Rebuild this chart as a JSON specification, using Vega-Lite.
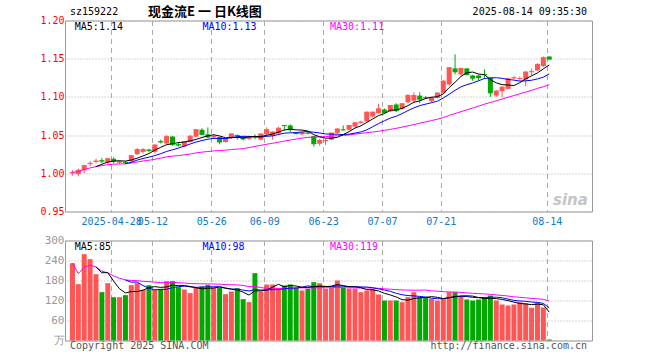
{
"$schema":"https://vega.github.io/schema/vega-lite/v6.json",
"padding":{"left":39,"top":5.5,"right":0,"bottom":0},
"background":"white",
"spacing":29,
"bounds":"flush",
"config":{
 "view":{"stroke":"#999","strokeWidth":1},
 "font":"DejaVu Sans Mono",
 "axis":{"labelFont":"DejaVu Sans Mono","labelFontSize":10,"domain":false,"ticks":false,"tickSize":0,"gridColor":"#aaa","gridWidth":1,"title":null,"labelOverlap":false}
},
"datasets":{"k":[
{"i":0,"o":1.000,"c":1.001,"h":1.004,"l":0.997,"v":232,"m5":null,"m10":null,"m30":1.001,"vm5":null,"vm10":null,"vm30":232},
{"i":1,"o":0.999,"c":1.004,"h":1.006,"l":0.996,"v":169,"m5":null,"m10":null,"m30":1.0025,"vm5":null,"vm10":null,"vm30":200.5},
{"i":2,"o":1.004,"c":1.010,"h":1.011,"l":1.000,"v":259,"m5":null,"m10":null,"m30":1.005,"vm5":null,"vm10":null,"vm30":220},
{"i":3,"o":1.012,"c":1.013,"h":1.016,"l":1.009,"v":244,"m5":null,"m10":null,"m30":1.007,"vm5":null,"vm10":null,"vm30":226},
{"i":4,"o":1.015,"c":1.016,"h":1.019,"l":1.013,"v":199,"m5":1.0088,"m10":null,"m30":1.0088,"vm5":220.6,"vm10":null,"vm30":220.6},
{"i":5,"o":1.017,"c":1.016,"h":1.020,"l":1.013,"v":145,"m5":1.0118,"m10":null,"m30":1.010,"vm5":203.2,"vm10":null,"vm30":208},
{"i":6,"o":1.014,"c":1.019,"h":1.020,"l":1.012,"v":172,"m5":1.0148,"m10":null,"m30":1.0113,"vm5":203.8,"vm10":null,"vm30":202.9},
{"i":7,"o":1.019,"c":1.016,"h":1.021,"l":1.013,"v":130,"m5":1.016,"m10":null,"m30":1.0119,"vm5":178,"vm10":null,"vm30":193.8},
{"i":8,"o":1.014,"c":1.015,"h":1.017,"l":1.012,"v":130,"m5":1.0164,"m10":null,"m30":1.0122,"vm5":155.2,"vm10":null,"vm30":186.7},
{"i":9,"o":1.015,"c":1.014,"h":1.016,"l":1.012,"v":136,"m5":1.016,"m10":1.0124,"m30":1.0124,"vm5":142.6,"vm10":181.6,"vm30":181.6},
{"i":10,"o":1.016,"c":1.023,"h":1.024,"l":1.013,"v":166,"m5":1.0174,"m10":1.0146,"m30":1.0134,"vm5":146.8,"vm10":175,"vm30":180.2},
{"i":11,"o":1.025,"c":1.031,"h":1.033,"l":1.024,"v":172,"m5":1.0198,"m10":1.0173,"m30":1.0148,"vm5":146.8,"vm10":175.3,"vm30":179.5},
{"i":12,"o":1.028,"c":1.031,"h":1.033,"l":1.026,"v":152,"m5":1.0228,"m10":1.0194,"m30":1.0161,"vm5":151.2,"vm10":164.6,"vm30":177.4},
{"i":13,"o":1.031,"c":1.030,"h":1.032,"l":1.028,"v":166,"m5":1.0258,"m10":1.0211,"m30":1.0171,"vm5":158.4,"vm10":156.8,"vm30":176.6},
{"i":14,"o":1.028,"c":1.037,"h":1.038,"l":1.026,"v":152,"m5":1.0304,"m10":1.0232,"m30":1.0184,"vm5":161.6,"vm10":152.1,"vm30":174.9},
{"i":15,"o":1.042,"c":1.041,"h":1.044,"l":1.039,"v":155,"m5":1.034,"m10":1.0257,"m30":1.0198,"vm5":159.4,"vm10":153.1,"vm30":173.7},
{"i":16,"o":1.039,"c":1.048,"h":1.050,"l":1.037,"v":178,"m5":1.0374,"m10":1.0286,"m30":1.0215,"vm5":160.6,"vm10":153.7,"vm30":173.9},
{"i":17,"o":1.048,"c":1.038,"h":1.049,"l":1.036,"v":178,"m5":1.0388,"m10":1.0308,"m30":1.0224,"vm5":165.8,"vm10":158.5,"vm30":174.2},
{"i":18,"o":1.038,"c":1.037,"h":1.040,"l":1.035,"v":160,"m5":1.0402,"m10":1.033,"m30":1.0232,"vm5":164.6,"vm10":161.5,"vm30":173.4},
{"i":19,"o":1.035,"c":1.041,"h":1.042,"l":1.034,"v":153,"m5":1.041,"m10":1.0357,"m30":1.0241,"vm5":164.8,"vm10":163.2,"vm30":172.4},
{"i":20,"o":1.041,"c":1.0485,"h":1.050,"l":1.040,"v":142,"m5":1.0425,"m10":1.0383,"m30":1.0252,"vm5":162.2,"vm10":160.8,"vm30":171},
{"i":21,"o":1.048,"c":1.057,"h":1.058,"l":1.047,"v":158,"m5":1.0443,"m10":1.0409,"m30":1.0267,"vm5":158.2,"vm10":159.4,"vm30":170.4},
{"i":22,"o":1.057,"c":1.051,"h":1.059,"l":1.050,"v":162,"m5":1.0469,"m10":1.0429,"m30":1.0277,"vm5":155,"vm10":160.4,"vm30":170},
{"i":23,"o":1.051,"c":1.0475,"h":1.060,"l":1.046,"v":167,"m5":1.049,"m10":1.0446,"m30":1.0285,"vm5":156.4,"vm10":160.5,"vm30":169.9},
{"i":24,"o":1.047,"c":1.048,"h":1.051,"l":1.045,"v":158,"m5":1.0504,"m10":1.0457,"m30":1.0293,"vm5":157.4,"vm10":161.1,"vm30":169.4},
{"i":25,"o":1.0475,"c":1.041,"h":1.048,"l":1.038,"v":158,"m5":1.0489,"m10":1.0457,"m30":1.0298,"vm5":160.6,"vm10":161.4,"vm30":169},
{"i":26,"o":1.041,"c":1.045,"h":1.046,"l":1.040,"v":139,"m5":1.0465,"m10":1.0454,"m30":1.0303,"vm5":156.8,"vm10":157.5,"vm30":167.9},
{"i":27,"o":1.0465,"c":1.0515,"h":1.052,"l":1.045,"v":147,"m5":1.0466,"m10":1.0468,"m30":1.0311,"vm5":153.8,"vm10":154.4,"vm30":167.1},
{"i":28,"o":1.050,"c":1.0495,"h":1.051,"l":1.044,"v":157,"m5":1.047,"m10":1.048,"m30":1.0317,"vm5":151.8,"vm10":154.1,"vm30":166.8},
{"i":29,"o":1.047,"c":1.045,"h":1.049,"l":1.043,"v":124,"m5":1.0464,"m10":1.0484,"m30":1.0322,"vm5":145,"vm10":151.2,"vm30":165.3},
{"i":30,"o":1.045,"c":1.047,"h":1.048,"l":1.044,"v":115,"m5":1.0476,"m10":1.0483,"m30":1.0337,"vm5":136.4,"vm10":148.5,"vm30":161.4},
{"i":31,"o":1.0485,"c":1.048,"h":1.051,"l":1.045,"v":202,"m5":1.0482,"m10":1.0474,"m30":1.0352,"vm5":149,"vm10":152.9,"vm30":162.5},
{"i":32,"o":1.044,"c":1.0515,"h":1.052,"l":1.043,"v":147,"m5":1.0482,"m10":1.0474,"m30":1.0366,"vm5":149,"vm10":151.4,"vm30":158.8},
{"i":33,"o":1.051,"c":1.057,"h":1.060,"l":1.050,"v":168,"m5":1.0497,"m10":1.0484,"m30":1.038,"vm5":151.2,"vm10":151.5,"vm30":156.3},
{"i":34,"o":1.049,"c":1.054,"h":1.055,"l":1.044,"v":168,"m5":1.0515,"m10":1.049,"m30":1.0393,"vm5":160,"vm10":152.5,"vm30":155.2},
{"i":35,"o":1.052,"c":1.059,"h":1.061,"l":1.050,"v":158,"m5":1.0539,"m10":1.0508,"m30":1.0407,"vm5":168.6,"vm10":152.5,"vm30":155.7},
{"i":36,"o":1.0628,"c":1.0624,"h":1.0628,"l":1.056,"v":165,"m5":1.0567,"m10":1.0525,"m30":1.0422,"vm5":161.2,"vm10":155.1,"vm30":155.4},
{"i":37,"o":1.0626,"c":1.057,"h":1.064,"l":1.054,"v":168,"m5":1.0578,"m10":1.053,"m30":1.0435,"vm5":165.4,"vm10":157.2,"vm30":156.7},
{"i":38,"o":1.053,"c":1.052,"h":1.054,"l":1.051,"v":158,"m5":1.0568,"m10":1.0533,"m30":1.0448,"vm5":163.4,"vm10":157.3,"vm30":157.6},
{"i":39,"o":1.051,"c":1.053,"h":1.054,"l":1.050,"v":150,"m5":1.0566,"m10":1.0541,"m30":1.0461,"vm5":159.8,"vm10":159.9,"vm30":158.1},
{"i":40,"o":1.053,"c":1.0525,"h":1.054,"l":1.051,"v":155,"m5":1.0553,"m10":1.0546,"m30":1.047,"vm5":159.2,"vm10":163.9,"vm30":157.7},
{"i":41,"o":1.0487,"c":1.0387,"h":1.049,"l":1.035,"v":175,"m5":1.0506,"m10":1.0537,"m30":1.0473,"vm5":161.2,"vm10":161.2,"vm30":157.8},
{"i":42,"o":1.0387,"c":1.043,"h":1.045,"l":1.036,"v":172,"m5":1.0478,"m10":1.0528,"m30":1.0477,"vm5":162,"vm10":163.7,"vm30":158.5},
{"i":43,"o":1.042,"c":1.043,"h":1.045,"l":1.037,"v":155,"m5":1.046,"m10":1.0514,"m30":1.0481,"vm5":161.4,"vm10":162.4,"vm30":158.1},
{"i":44,"o":1.044,"c":1.0526,"h":1.053,"l":1.043,"v":158,"m5":1.046,"m10":1.0513,"m30":1.0486,"vm5":163,"vm10":161.4,"vm30":158.3},
{"i":45,"o":1.053,"c":1.058,"h":1.059,"l":1.052,"v":180,"m5":1.0471,"m10":1.0512,"m30":1.0492,"vm5":168,"vm10":163.6,"vm30":159.2},
{"i":46,"o":1.0572,"c":1.0568,"h":1.0626,"l":1.056,"v":158,"m5":1.0507,"m10":1.0507,"m30":1.0495,"vm5":164.6,"vm10":162.9,"vm30":158.5},
{"i":47,"o":1.057,"c":1.0626,"h":1.063,"l":1.056,"v":155,"m5":1.0546,"m10":1.0512,"m30":1.0503,"vm5":161.2,"vm10":161.6,"vm30":157.7},
{"i":48,"o":1.061,"c":1.066,"h":1.067,"l":1.060,"v":155,"m5":1.0592,"m10":1.0526,"m30":1.0513,"vm5":161.2,"vm10":161.3,"vm30":157.6},
{"i":49,"o":1.066,"c":1.067,"h":1.069,"l":1.065,"v":145,"m5":1.0621,"m10":1.0541,"m30":1.0522,"vm5":158.6,"vm10":160.8,"vm30":157.3},
{"i":50,"o":1.068,"c":1.080,"h":1.081,"l":1.067,"v":150,"m5":1.0665,"m10":1.0568,"m30":1.0532,"vm5":152.6,"vm10":160.3,"vm30":157.6},
{"i":51,"o":1.0743,"c":1.080,"h":1.081,"l":1.073,"v":155,"m5":1.0711,"m10":1.0609,"m30":1.054,"vm5":152,"vm10":158.3,"vm30":157.5},
{"i":52,"o":1.0787,"c":1.0843,"h":1.091,"l":1.078,"v":138,"m5":1.0755,"m10":1.0651,"m30":1.0551,"vm5":148.6,"vm10":154.9,"vm30":156.7},
{"i":53,"o":1.0835,"c":1.0796,"h":1.085,"l":1.079,"v":120,"m5":1.0782,"m10":1.0687,"m30":1.0562,"vm5":141.6,"vm10":151.4,"vm30":155.1},
{"i":54,"o":1.081,"c":1.0887,"h":1.089,"l":1.080,"v":120,"m5":1.0825,"m10":1.0723,"m30":1.0575,"vm5":136.6,"vm10":147.6,"vm30":153.8},
{"i":55,"o":1.090,"c":1.082,"h":1.0917,"l":1.080,"v":120,"m5":1.0829,"m10":1.0747,"m30":1.0589,"vm5":130.6,"vm10":141.6,"vm30":152.6},
{"i":56,"o":1.0843,"c":1.091,"h":1.092,"l":1.083,"v":115,"m5":1.0851,"m10":1.0781,"m30":1.0604,"vm5":122.6,"vm10":137.3,"vm30":151.8},
{"i":57,"o":1.093,"c":1.1017,"h":1.104,"l":1.0917,"v":130,"m5":1.0886,"m10":1.0821,"m30":1.0621,"vm5":121,"vm10":134.8,"vm30":151.2},
{"i":58,"o":1.095,"c":1.1017,"h":1.106,"l":1.0917,"v":145,"m5":1.093,"m10":1.0856,"m30":1.0638,"vm5":126,"vm10":133.8,"vm30":150.8},
{"i":59,"o":1.1017,"c":1.097,"h":1.106,"l":1.0917,"v":130,"m5":1.0947,"m10":1.0886,"m30":1.0656,"vm5":128,"vm10":132.3,"vm30":151},
{"i":60,"o":1.099,"c":1.0987,"h":1.101,"l":1.097,"v":128,"m5":1.098,"m10":1.0905,"m30":1.0673,"vm5":129.6,"vm10":130.1,"vm30":151.4},
{"i":61,"o":1.0943,"c":1.0987,"h":1.100,"l":1.093,"v":125,"m5":1.0996,"m10":1.0924,"m30":1.069,"vm5":131.6,"vm10":127.1,"vm30":148.9},
{"i":62,"o":1.0987,"c":1.105,"h":1.106,"l":1.098,"v":120,"m5":1.1002,"m10":1.0944,"m30":1.0708,"vm5":129.6,"vm10":125.3,"vm30":148},
{"i":63,"o":1.1053,"c":1.1206,"h":1.122,"l":1.104,"v":125,"m5":1.104,"m10":1.0985,"m30":1.0729,"vm5":125.6,"vm10":125.8,"vm30":146.5},
{"i":64,"o":1.1162,"c":1.1382,"h":1.139,"l":1.115,"v":145,"m5":1.1122,"m10":1.1035,"m30":1.0757,"vm5":128.6,"vm10":128.3,"vm30":145.8},
{"i":65,"o":1.1373,"c":1.1329,"h":1.1557,"l":1.1294,"v":145,"m5":1.1191,"m10":1.1086,"m30":1.0782,"vm5":132,"vm10":130.8,"vm30":145.3},
{"i":66,"o":1.1294,"c":1.1373,"h":1.138,"l":1.1285,"v":133,"m5":1.1268,"m10":1.1132,"m30":1.0807,"vm5":133.6,"vm10":132.6,"vm30":144.3},
{"i":67,"o":1.1373,"c":1.1294,"h":1.138,"l":1.128,"v":123,"m5":1.1317,"m10":1.116,"m30":1.0831,"vm5":134.2,"vm10":131.9,"vm30":142.8},
{"i":68,"o":1.128,"c":1.1246,"h":1.129,"l":1.121,"v":120,"m5":1.1325,"m10":1.1183,"m30":1.0855,"vm5":133.2,"vm10":129.4,"vm30":141.5},
{"i":69,"o":1.128,"c":1.1254,"h":1.129,"l":1.121,"v":123,"m5":1.1299,"m10":1.1211,"m30":1.0879,"vm5":128.8,"vm10":128.7,"vm30":140.6},
{"i":70,"o":1.1294,"c":1.129,"h":1.136,"l":1.124,"v":130,"m5":1.1291,"m10":1.1241,"m30":1.0905,"vm5":125.8,"vm10":128.9,"vm30":139.8},
{"i":71,"o":1.125,"c":1.1053,"h":1.126,"l":1.100,"v":135,"m5":1.1227,"m10":1.1248,"m30":1.0927,"vm5":126.2,"vm10":129.9,"vm30":138.4},
{"i":72,"o":1.1018,"c":1.1075,"h":1.109,"l":1.100,"v":120,"m5":1.1184,"m10":1.1251,"m30":1.0948,"vm5":125.6,"vm10":129.9,"vm30":136.7},
{"i":73,"o":1.1075,"c":1.1127,"h":1.114,"l":1.100,"v":108,"m5":1.116,"m10":1.1243,"m30":1.0972,"vm5":123.2,"vm10":128.2,"vm30":135.1},
{"i":74,"o":1.1105,"c":1.1237,"h":1.125,"l":1.110,"v":105,"m5":1.1156,"m10":1.1228,"m30":1.0995,"vm5":119.6,"vm10":124.2,"vm30":133.4},
{"i":75,"o":1.1245,"c":1.125,"h":1.127,"l":1.123,"v":108,"m5":1.1148,"m10":1.122,"m30":1.1018,"vm5":115.2,"vm10":120.5,"vm30":131},
{"i":76,"o":1.1235,"c":1.124,"h":1.127,"l":1.121,"v":115,"m5":1.1186,"m10":1.1207,"m30":1.104,"vm5":111.2,"vm10":118.7,"vm30":129.5},
{"i":77,"o":1.1228,"c":1.1325,"h":1.134,"l":1.114,"v":112,"m5":1.1236,"m10":1.121,"m30":1.1063,"vm5":109.6,"vm10":117.6,"vm30":128.1},
{"i":78,"o":1.1325,"c":1.133,"h":1.137,"l":1.128,"v":98,"m5":1.1276,"m10":1.1218,"m30":1.1086,"vm5":107.6,"vm10":115.4,"vm30":126.2},
{"i":79,"o":1.1346,"c":1.1425,"h":1.144,"l":1.134,"v":113,"m5":1.1314,"m10":1.1235,"m30":1.1111,"vm5":109.2,"vm10":114.4,"vm30":125.1},
{"i":80,"o":1.1404,"c":1.1513,"h":1.153,"l":1.139,"v":99,"m5":1.1367,"m10":1.1258,"m30":1.1134,"vm5":107.4,"vm10":111.3,"vm30":123.4},
{"i":81,"o":1.1529,"c":1.1495,"h":1.153,"l":1.149,"v":3,"m5":1.1418,"m10":1.1302,"m30":1.1158,"vm5":85,"vm10":98.1,"vm30":118.4}
]},
"vconcat":[
{
 "width":527,"height":191,
 "data":{"name":"k"},
 "encoding":{"x":{"field":"i","type":"quantitative","scale":{"domain":[-0.4167,87.4167],"nice":false,"zero":false},
   "axis":{"values":[6.5833,13.5833,23.5833,32.5833,42.5833,52.5833,62.5833,80.5833],"tickCount":20,
     "labelExpr":"datum.value < 7 ? '2025-04-28' : datum.value < 14 ? '05-12' : datum.value < 24 ? '05-26' : datum.value < 33 ? '06-09' : datum.value < 43 ? '06-23' : datum.value < 53 ? '07-07' : datum.value < 63 ? '07-21' : '08-14'",
     "labelColor":"#0a78d0","grid":true,"gridDash":[5,4],"labelOverlap":false,"labelFlush":false,"labelBound":false,"labelPadding":5}}},
 "layer":[
  {"mark":{"type":"rule","strokeWidth":1},
   "encoding":{"y":{"field":"l","type":"quantitative","scale":{"domain":[0.95,1.2],"nice":false,"zero":false},
      "axis":{"values":[0.95,1.0,1.05,1.1,1.15,1.2],"tickCount":12,"format":".2f","labelColor":"#ff0000","grid":true,"gridDash":[1,2],"labelPadding":1,"labelOverlap":false,"labelFlush":false,"labelBound":false}},
    "y2":{"field":"h"},
    "color":{"condition":{"test":"datum.c >= datum.o","value":"#ff5555"},"value":"#00a800"}}},
  {"mark":{"type":"bar","size":5},
   "encoding":{"y":{"field":"o","type":"quantitative","scale":{"domain":[0.95,1.2],"nice":false,"zero":false}},
    "y2":{"field":"c"},
    "color":{"condition":{"test":"datum.c >= datum.o","value":"#ff5555"},"value":"#00a800"}}},
  {"mark":{"type":"tick","orient":"horizontal","size":5,"thickness":1,"opacity":1},
   "encoding":{"y":{"field":"c","type":"quantitative","scale":{"domain":[0.95,1.2],"nice":false,"zero":false}},
    "color":{"condition":{"test":"datum.c >= datum.o","value":"#ff5555"},"value":"#00a800"}}},
  {"mark":{"type":"line","color":"#ff00ff","strokeWidth":1},
   "encoding":{"y":{"field":"m30","type":"quantitative","scale":{"domain":[0.95,1.2],"nice":false,"zero":false}}}},
  {"mark":{"type":"line","color":"#0000ff","strokeWidth":1},
   "encoding":{"y":{"field":"m10","type":"quantitative","scale":{"domain":[0.95,1.2],"nice":false,"zero":false}}}},
  {"mark":{"type":"line","color":"#000000","strokeWidth":1},
   "encoding":{"y":{"field":"m5","type":"quantitative","scale":{"domain":[0.95,1.2],"nice":false,"zero":false}}}},
  {"data":{"values":[{"i":-0.4167,"p":1.2105,"t":"sz159222"}]},
   "mark":{"type":"text","align":"left","baseline":"middle","fontSize":10,"font":"DejaVu Sans Mono","color":"#000"},
   "encoding":{"y":{"field":"p","type":"quantitative","scale":{"domain":[0.95,1.2],"nice":false,"zero":false}},"text":{"field":"t"}}},
  {"data":{"values":[{"i":22.5,"p":1.2105,"t":"现金流E 一 日K线图"}]},
   "mark":{"type":"text","align":"center","baseline":"middle","fontSize":13,"font":"Noto Sans CJK SC","fontWeight":"bold","color":"#000"},
   "encoding":{"y":{"field":"p","type":"quantitative","scale":{"domain":[0.95,1.2],"nice":false,"zero":false}},"text":{"field":"t"}}},
  {"data":{"values":[{"i":87.4167,"p":1.2105,"t":"2025-08-14 09:35:30"}]},
   "mark":{"type":"text","align":"right","baseline":"middle","fontSize":10,"font":"DejaVu Sans Mono","color":"#000"},
   "encoding":{"y":{"field":"p","type":"quantitative","scale":{"domain":[0.95,1.2],"nice":false,"zero":false}},"text":{"field":"t"}}},
  {"data":{"values":[{"i":0.4,"p":1.1915,"t":"MA5:1.14"}]},
   "mark":{"type":"text","align":"left","baseline":"middle","fontSize":10,"font":"DejaVu Sans Mono","color":"#000000"},
   "encoding":{"y":{"field":"p","type":"quantitative","scale":{"domain":[0.95,1.2],"nice":false,"zero":false}},"text":{"field":"t"}}},
  {"data":{"values":[{"i":22.08,"p":1.1915,"t":"MA10:1.13"}]},
   "mark":{"type":"text","align":"left","baseline":"middle","fontSize":10,"font":"DejaVu Sans Mono","color":"#0000ff"},
   "encoding":{"y":{"field":"p","type":"quantitative","scale":{"domain":[0.95,1.2],"nice":false,"zero":false}},"text":{"field":"t"}}},
  {"data":{"values":[{"i":43.75,"p":1.1915,"t":"MA30:1.11"}]},
   "mark":{"type":"text","align":"left","baseline":"middle","fontSize":10,"font":"DejaVu Sans Mono","color":"#ff00ff"},
   "encoding":{"y":{"field":"p","type":"quantitative","scale":{"domain":[0.95,1.2],"nice":false,"zero":false}},"text":{"field":"t"}}},
  {"data":{"values":[{"i":84.6,"p":0.9657,"t":"sina"}]},
   "mark":{"type":"text","align":"center","baseline":"middle","fontSize":15,"font":"DejaVu Sans","fontStyle":"italic","fontWeight":"bold","color":"#c4c4c4"},
   "encoding":{"y":{"field":"p","type":"quantitative","scale":{"domain":[0.95,1.2],"nice":false,"zero":false}},"text":{"field":"t"}}}
 ]
},
{
 "width":527,"height":100,
 "data":{"name":"k"},
 "encoding":{"x":{"field":"i","type":"quantitative","scale":{"domain":[-0.4167,87.4167],"nice":false,"zero":false},
   "axis":{"values":[6.5833,13.5833,23.5833,32.5833,42.5833,52.5833,62.5833,80.5833],"tickCount":20,"labels":false,"grid":true,"gridDash":[5,4]}}},
 "layer":[
  {"mark":{"type":"bar","size":5},
   "encoding":{"y":{"field":"v","type":"quantitative","scale":{"domain":[0,300],"nice":false},
      "axis":{"values":[0,60,120,180,240,300],"tickCount":12,"labelExpr":"datum.value == 0 ? '万' : datum.label","labelColor":"#999999","labelFontSize":11,"grid":true,"gridDash":[1,2],"labelPadding":1,"labelOverlap":false,"labelFlush":false,"labelBound":false}},
    "color":{"condition":{"test":"datum.c >= datum.o","value":"#ff5555"},"value":"#00a800"}}},
  {"mark":{"type":"line","color":"#ff00ff","strokeWidth":1},
   "encoding":{"y":{"field":"vm30","type":"quantitative","scale":{"domain":[0,300],"nice":false}}}},
  {"mark":{"type":"line","color":"#0000ff","strokeWidth":1},
   "encoding":{"y":{"field":"vm10","type":"quantitative","scale":{"domain":[0,300],"nice":false}}}},
  {"mark":{"type":"line","color":"#000000","strokeWidth":1},
   "encoding":{"y":{"field":"vm5","type":"quantitative","scale":{"domain":[0,300],"nice":false}}}},
  {"data":{"values":[{"i":0.4,"p":281,"t":"MA5:85"}]},
   "mark":{"type":"text","align":"left","baseline":"middle","fontSize":10,"font":"DejaVu Sans Mono","color":"#000000"},
   "encoding":{"y":{"field":"p","type":"quantitative","scale":{"domain":[0,300],"nice":false}},"text":{"field":"t"}}},
  {"data":{"values":[{"i":22.08,"p":281,"t":"MA10:98"}]},
   "mark":{"type":"text","align":"left","baseline":"middle","fontSize":10,"font":"DejaVu Sans Mono","color":"#0000ff"},
   "encoding":{"y":{"field":"p","type":"quantitative","scale":{"domain":[0,300],"nice":false}},"text":{"field":"t"}}},
  {"data":{"values":[{"i":43.75,"p":281,"t":"MA30:119"}]},
   "mark":{"type":"text","align":"left","baseline":"middle","fontSize":10,"font":"DejaVu Sans Mono","color":"#ff00ff"},
   "encoding":{"y":{"field":"p","type":"quantitative","scale":{"domain":[0,300],"nice":false}},"text":{"field":"t"}}},
  {"data":{"values":[{"i":-0.4167,"p":-17,"t":"Copyright 2025 SINA.COM"}]},
   "mark":{"type":"text","align":"left","baseline":"middle","fontSize":10,"font":"DejaVu Sans Mono","color":"#555555"},
   "encoding":{"y":{"field":"p","type":"quantitative","scale":{"domain":[0,300],"nice":false}},"text":{"field":"t"}}},
  {"data":{"values":[{"i":87.4167,"p":-17,"t":"http://finance.sina.com.cn"}]},
   "mark":{"type":"text","align":"right","baseline":"middle","fontSize":10,"font":"DejaVu Sans Mono","color":"#555555"},
   "encoding":{"y":{"field":"p","type":"quantitative","scale":{"domain":[0,300],"nice":false}},"text":{"field":"t"}}}
 ]
}
]
}
